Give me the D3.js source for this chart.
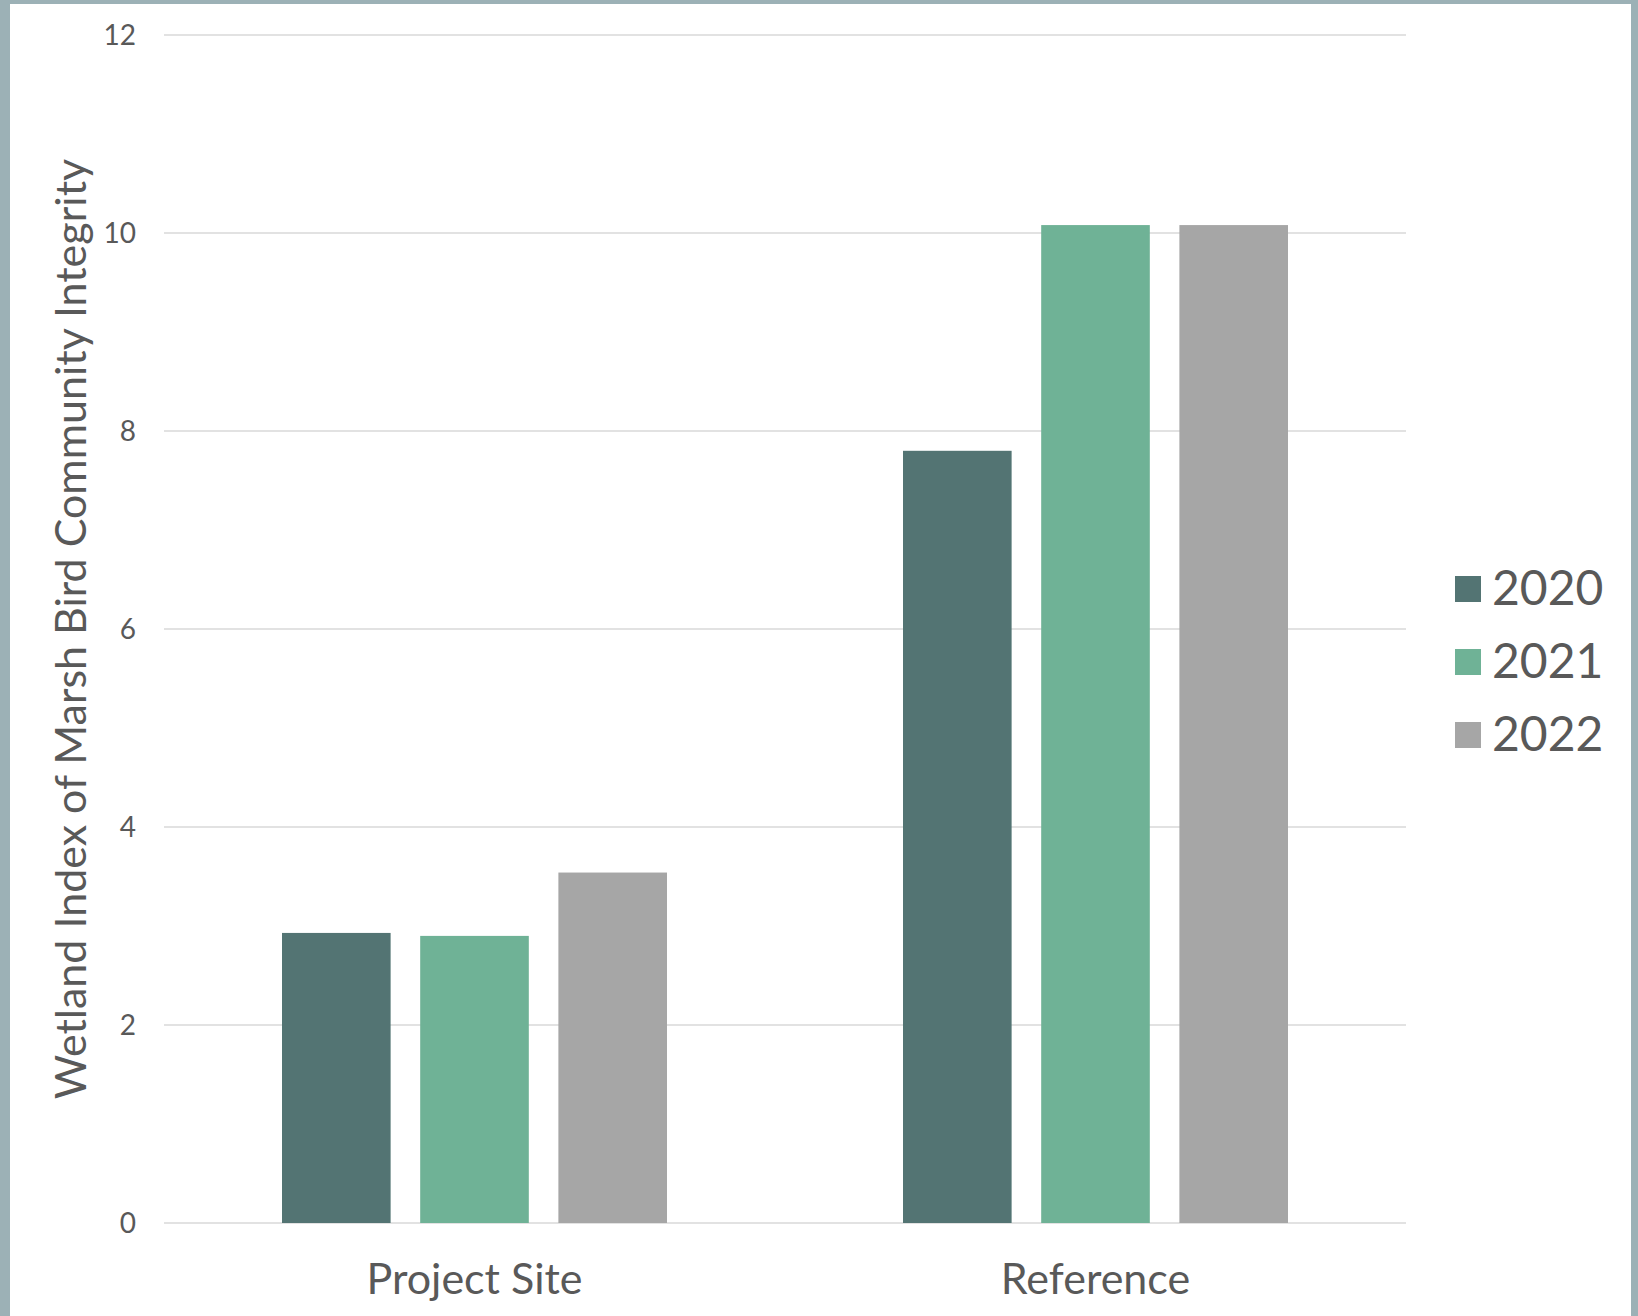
<!DOCTYPE html>
<html>
<head>
<meta charset="utf-8">
<script src="https://cdn.jsdelivr.net/npm/d3@7"></script>
<style>
  html, body { margin: 0; padding: 0; background: #9cb1b6; }
  svg { display: block; }
  text { font-family: Lato, "Open Sans", sans-serif; fill: #595959; }
</style>
</head>
<body>
<svg id="chart" width="1638" height="1316"></svg>
<script>
// categories, series and values
var sites = ["Project Site", "Reference"];
var years = ["2020", "2021", "2022"];
var colors = ["#537473", "#6fb296", "#a6a6a6"];
var v2020 = [2.93, 7.80];
var v2021 = [2.90, 10.08];
var v2022 = [3.54, 10.08];
var yTicks = [0, 2, 4, 6, 8, 10, 12];

var rows = sites.map(function(s, i) {
  return { site: s, vals: [v2020[i], v2021[i], v2022[i]] };
});

var svg = d3.select("#chart");

// white card inside the gray frame
svg.append("rect").attr("x", 10).attr("y", 4).attr("width", 1621).attr("height", 1312).attr("fill", "#ffffff");

var x0 = d3.scaleBand().domain(sites).range([164, 1406]);
var groupW = 385;
var x1 = d3.scaleBand().domain(years)
  .range([(x0.bandwidth() - groupW) / 2, (x0.bandwidth() + groupW) / 2])
  .paddingInner(0.214);
var y = d3.scaleLinear().domain([0, 12]).range([1223, 35]);

// gridlines
svg.append("g").selectAll("line").data(yTicks).enter().append("line")
  .attr("x1", 164).attr("x2", 1406)
  .attr("y1", function(d) { return y(d); }).attr("y2", function(d) { return y(d); })
  .attr("stroke", "#d9d9d9").attr("stroke-width", 1.5);

// y axis labels
var yAxis = d3.axisLeft(y).tickValues(yTicks).tickSize(0).tickPadding(0);
var gy = svg.append("g").attr("transform", "translate(136,1)").call(yAxis);
gy.select(".domain").remove();
gy.selectAll("text").attr("font-size", 28).attr("font-family", "Lato").attr("fill", "#595959");

// bars
var groups = svg.append("g").selectAll("g").data(rows).enter().append("g")
  .attr("transform", function(d) { return "translate(" + x0(d.site) + ",0)"; });
groups.selectAll("rect").data(function(d) { return d.vals; }).enter().append("rect")
  .attr("x", function(d, i) { return x1(years[i]); })
  .attr("width", x1.bandwidth())
  .attr("y", function(d) { return y(d); })
  .attr("height", function(d) { return y(0) - y(d); })
  .attr("fill", function(d, i) { return colors[i]; });

// category labels
var xAxis = d3.axisBottom(x0).tickSize(0).tickPadding(0);
var gx = svg.append("g").attr("transform", "translate(0,1223)").call(xAxis);
gx.select(".domain").remove();
gx.selectAll("text").attr("font-size", 43).attr("font-family", "Lato").attr("fill", "#595959")
  .attr("dy", null).attr("y", 71);

// y axis title
svg.append("text")
  .attr("transform", "translate(86,629) rotate(-90)")
  .attr("text-anchor", "middle")
  .attr("font-size", 43)
  .text("Wetland Index of Marsh Bird Community Integrity");

// legend
var legend = svg.append("g").selectAll("g").data(years).enter().append("g")
  .attr("transform", function(d, i) { return "translate(1455," + (576 + i * 73) + ")"; });
legend.append("rect").attr("width", 26).attr("height", 26)
  .attr("fill", function(d, i) { return colors[i]; });
legend.append("text").attr("x", 37).attr("y", 29).attr("font-size", 48).text(function(d) { return d; });
</script>
</body>
</html>
